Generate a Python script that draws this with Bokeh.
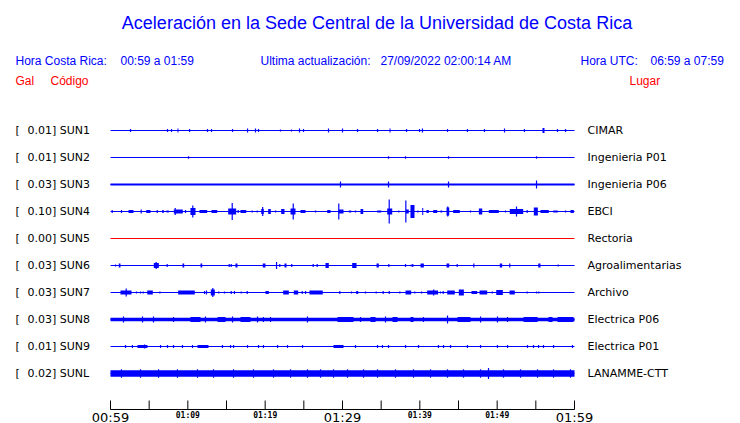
from bokeh.plotting import figure
from bokeh.models import Range1d
from bokeh.core.properties import value
from bokeh.embed import file_html
from bokeh.resources import INLINE

# ---------------- data ----------------
TITLE = "Aceleración en la Sede Central de la Universidad de Costa Rica"
HDR_TEXT = ["Hora Costa Rica:", "00:59 a 01:59", "Ultima actualización:",
            "27/09/2022 02:00:14 AM", "Hora UTC:", "06:59 a 07:59"]
COL_HEADS = ["Gal", "Código", "Lugar"]

CODES = ["SUN1", "SUN2", "SUN3", "SUN4", "SUN5", "SUN6", "SUN7", "SUN8", "SUN9", "SUNL"]
PEAK_GAL = [0.01, 0.01, 0.03, 0.10, 0.00, 0.03, 0.03, 0.03, 0.01, 0.02]
PLACES = ["CIMAR", "Ingenieria P01", "Ingenieria P06", "EBCI", "Rectoria",
          "Agroalimentarias", "Archivo", "Electrica P06", "Electrica P01", "LANAMME-CTT"]
ONLINE = [True, True, True, True, False, True, True, True, True, True]
# background noise half-width of each trace (display amplitude units)
NOISE = [0, 0, 1.1, 0, 0, 0, 0, 1.7, 0, 3.3]

DURATION = 60  # minutes shown
TICK_MIN = [0, 5, 10, 15, 20, 25, 30, 35, 40, 45, 50, 55, 60]
TICK_LABELS = ["00:59", "", "01:09", "", "01:19", "", "01:29", "", "01:39", "", "01:49", "", "01:59"]
TICK_MAJOR = [True, False, False, False, False, False, True, False, False, False, False, False, True]

# events: (start minute, end minute, amplitude)
SUN1_EV = [(2.59, 2.59, 1.5), (7.37, 7.37, 1.5), (7.89, 7.89, 1.5), (8.66, 8.79, 2), (10.22, 10.22, 1.5),
           (12.54, 12.54, 1.5), (13.06, 13.06, 1.5), (15.78, 15.78, 1.5), (17.72, 17.72, 2), (18.75, 18.75, 2),
           (19.14, 19.14, 1.5), (21.98, 21.98, 1), (23.41, 23.41, 1), (24.44, 24.44, 2), (24.96, 24.96, 1.5),
           (28.19, 28.19, 2), (30.00, 30.00, 2), (31.94, 31.94, 1.5), (34.53, 34.53, 1.5), (36.08, 36.21, 2),
           (38.28, 38.28, 1.5), (39.96, 39.96, 1.5), (40.34, 40.34, 2), (43.58, 43.58, 1.5), (46.16, 46.16, 1.5),
           (48.36, 48.36, 1.5), (50.95, 50.95, 2), (53.53, 53.53, 1.5), (55.86, 56.12, 2.5), (57.80, 57.80, 1.5),
           (58.84, 58.84, 1.5)]
SUN2_EV = [(10.09, 10.09, 1.2), (35.95, 35.95, 1.2), (38.15, 38.15, 1.2), (43.71, 43.71, 1.2), (55.09, 55.09, 1.2)]
SUN3_EV = [(29.74, 29.74, 3), (35.95, 35.95, 3), (43.71, 43.71, 3), (55.09, 55.09, 4)]
SUN4_EV = [(0.22, 0.22, 1.5), (1.42, 1.42, 1.5), (2.33, 2.97, 1.5), (3.97, 3.97, 2), (4.62, 5.17, 1.5),
           (6.04, 6.04, 1.5), (6.69, 6.89, 1.5), (7.24, 7.54, 1), (8.19, 9.35, 2), (8.37, 8.37, 3.5),
           (9.70, 9.70, 1.5), (10.34, 10.99, 3.5), (10.64, 10.64, 6), (11.51, 12.50, 1.5), (13.06, 13.80, 1.5),
           (15.22, 16.25, 3), (15.74, 15.74, 8.5), (16.51, 16.51, 1.5), (16.81, 17.55, 1.5), (18.32, 18.32, 1),
           (18.97, 18.97, 1), (19.49, 19.82, 2.5), (19.68, 19.68, 4.5), (20.39, 20.73, 2.5), (21.34, 21.34, 1),
           (22.07, 22.50, 2.5), (23.28, 23.92, 3), (23.63, 23.63, 8), (24.57, 25.22, 1.5), (26.51, 26.51, 1),
           (28.02, 28.45, 1.5), (29.48, 30.13, 2), (29.52, 29.52, 8), (30.82, 31.13, 1), (31.68, 31.68, 1),
           (32.33, 32.68, 2.5), (34.49, 35.01, 1), (35.78, 36.43, 3), (36.04, 36.04, 12), (37.28, 37.28, 1),
           (38.19, 38.19, 11), (38.19, 38.57, 2), (38.79, 39.31, 6.5), (39.74, 39.74, 1), (40.31, 40.44, 3.5),
           (40.86, 41.16, 1.5), (41.73, 42.25, 1.5), (42.67, 42.89, 1), (43.45, 43.80, 4), (43.61, 43.61, 5),
           (44.31, 45.17, 1.5), (46.55, 46.55, 1), (47.63, 48.07, 3), (48.92, 50.21, 1.5), (51.08, 51.08, 1),
           (51.63, 53.37, 2.5), (52.50, 52.50, 5), (53.88, 53.88, 1.5), (54.74, 55.26, 4), (55.60, 56.68, 1.5),
           (57.25, 57.84, 1), (58.84, 58.84, 1), (59.48, 59.91, 1.5)]
SUN5_EV = []
SUN6_EV = [(0.65, 0.65, 1), (1.07, 1.29, 2), (5.60, 6.25, 2.5), (5.91, 5.91, 3.5), (7.33, 7.33, 1.5),
           (9.31, 9.53, 2), (11.64, 11.86, 2), (15.35, 15.35, 1.5), (15.61, 15.61, 1.5), (16.16, 16.42, 2),
           (19.69, 20.04, 2), (21.47, 21.47, 3.5), (21.89, 21.89, 1.5), (22.50, 22.76, 2), (23.44, 23.44, 1.5),
           (26.21, 26.21, 1.5), (26.73, 26.73, 1.5), (27.80, 28.23, 2.5), (31.25, 31.81, 2.5), (34.40, 34.70, 2),
           (35.99, 35.99, 1.5), (38.15, 38.15, 1.5), (38.88, 38.88, 1), (39.09, 39.09, 1.5), (40.09, 40.52, 2),
           (43.45, 43.80, 2), (44.83, 44.83, 1.5), (46.98, 46.98, 2), (50.34, 50.65, 2), (51.63, 51.63, 2),
           (55.31, 55.60, 2), (57.89, 57.89, 1)]
SUN7_EV = [(1.29, 2.72, 2), (2.03, 2.03, 4), (3.36, 3.36, 1), (3.88, 3.88, 1), (4.23, 4.23, 1),
           (4.75, 5.47, 2), (6.38, 6.38, 1), (8.75, 10.90, 2), (12.16, 12.16, 1.5), (12.41, 12.41, 2),
           (12.97, 13.49, 3), (13.23, 13.23, 4.5), (14.00, 14.00, 1), (14.74, 14.74, 1), (15.61, 15.61, 1.5),
           (16.03, 16.03, 1.5), (16.90, 16.90, 1), (17.68, 17.68, 1.5), (20.04, 20.47, 1.5), (22.33, 23.06, 2),
           (23.70, 24.27, 2), (24.79, 24.79, 1.5), (25.22, 25.22, 1.5), (25.73, 27.45, 2), (29.65, 29.65, 1.5),
           (31.16, 31.16, 1), (31.77, 32.03, 1.5), (32.97, 32.97, 1), (34.36, 34.36, 1), (35.26, 35.26, 1.5),
           (36.04, 36.04, 1.5), (37.41, 37.41, 1), (38.15, 38.88, 2), (39.35, 39.35, 1), (40.22, 40.22, 1),
           (40.95, 42.36, 2), (41.79, 41.79, 3), (42.67, 42.67, 1), (43.02, 43.02, 1.5), (43.54, 44.52, 2),
           (45.04, 45.69, 3), (46.68, 47.42, 1.5), (47.72, 48.71, 2), (49.36, 49.36, 1), (49.88, 50.73, 2.5),
           (51.60, 52.28, 2), (53.88, 53.88, 1), (55.09, 55.09, 1), (55.38, 55.38, 1)]
SUN8_EV = [(1.68, 1.68, 3), (4.14, 4.14, 3), (5.56, 5.56, 3), (8.15, 8.15, 2.5), (10.34, 11.64, 2.5),
           (12.28, 12.28, 3), (13.84, 14.87, 2.5), (15.78, 15.78, 3), (16.81, 18.10, 2.5), (19.01, 19.01, 3),
           (19.78, 19.78, 2.5), (20.69, 20.69, 2.5), (25.47, 25.47, 3), (29.35, 31.42, 2.5), (32.33, 32.33, 2.5),
           (33.62, 34.27, 2.5), (35.56, 35.56, 3), (36.47, 37.11, 2.5), (38.79, 39.18, 2.5), (40.47, 40.47, 2.5),
           (43.58, 43.58, 4), (44.87, 46.55, 2.5), (47.85, 47.85, 3), (50.04, 50.04, 3), (51.34, 51.34, 2.5),
           (53.41, 55.22, 2.5), (56.64, 57.16, 2.5), (57.80, 59.87, 2.5)]
SUN9_EV = [(1.94, 1.94, 1.5), (2.84, 2.84, 1.5), (3.49, 4.78, 1.5), (4.40, 4.40, 2), (6.47, 6.47, 1.5),
           (7.37, 7.37, 1.5), (8.15, 8.15, 1.5), (9.31, 9.31, 1.5), (10.60, 10.60, 1.5), (11.25, 12.67, 1.5),
           (14.48, 14.48, 1.5), (15.52, 15.52, 1.5), (15.91, 15.91, 1.5), (17.72, 17.72, 1.5), (19.14, 19.14, 1.5),
           (19.78, 19.78, 1.5), (21.60, 21.60, 1.5), (22.89, 22.89, 1.5), (24.83, 24.83, 1.5), (28.84, 30.13, 1.5),
           (31.68, 31.68, 1.5), (34.53, 34.53, 1.5), (35.17, 35.17, 1.5), (35.95, 35.95, 1.5), (38.15, 38.15, 1.5),
           (39.83, 39.83, 1.5), (42.41, 42.41, 1.5), (43.06, 43.06, 1.5), (43.97, 43.97, 1.5), (46.16, 46.16, 1.5),
           (47.85, 47.85, 1.5), (50.04, 50.04, 1.5), (51.34, 51.34, 1.5), (53.92, 53.92, 1.5), (54.70, 54.70, 1.5),
           (55.35, 55.35, 1.5), (55.99, 55.99, 1.5), (57.29, 57.29, 1.5), (59.74, 59.74, 1.5)]
SUNL_EV = [(1.42, 1.42, 4.2), (3.88, 3.88, 4.2), (6.21, 6.21, 4.2), (8.66, 8.66, 4.2), (11.25, 11.25, 4.2),
           (13.32, 13.32, 4.2), (15.91, 15.91, 4.2), (18.49, 18.49, 4.2), (21.08, 21.08, 4.2), (23.28, 23.28, 4.2),
           (25.47, 25.47, 4.2), (27.16, 27.16, 4.2), (28.84, 28.84, 4.2), (30.65, 30.65, 4.2), (32.72, 32.72, 4.2),
           (34.53, 34.53, 4.2), (36.85, 36.85, 4.2), (39.18, 39.18, 4.2), (41.38, 41.38, 4.2), (43.58, 43.58, 4.2),
           (45.65, 45.65, 4.2), (47.85, 47.85, 4.2), (48.88, 48.88, 5.5), (50.82, 50.82, 4.2), (53.02, 53.02, 4.2),
           (55.22, 55.22, 4.2), (57.29, 57.29, 4.2), (59.48, 59.48, 4.2)]
EVENTS = [SUN1_EV, SUN2_EV, SUN3_EV, SUN4_EV, SUN5_EV, SUN6_EV, SUN7_EV, SUN8_EV, SUN9_EV, SUNL_EV]

# ---------------- layout / style ----------------
W, H = 740, 423
T0_PX, T1_PX = 110, 574          # x of first / last minute
ROW0, ROW_STEP = 130, 27          # y of first trace, spacing
AXIS_Y = 409
BLUE, RED, BLACK = "#0000ff", "#ff0000", "#000000"
SANS = value("Liberation Sans")
DJV = value("DejaVu Sans")

ppm = (T1_PX - T0_PX) / DURATION
p = figure(width=W, height=H, x_range=Range1d(0, W), y_range=Range1d(H, 0),
           x_axis_location=None, y_axis_location=None, min_border=0,
           output_backend="svg", toolbar_location=None)
p.grid.visible = False
p.outline_line_color = None
p.background_fill_color = "white"
p.border_fill_color = "white"
p.extra_x_ranges = {"t": Range1d(-T0_PX / ppm, (W - T0_PX) / ppm)}

# headers (y = vertical centre of the text)
p.text(x=[376.5], y=[22], text=[TITLE], text_font=SANS, text_font_size="18px",
       text_color=BLUE, text_align="center", text_baseline="middle")
p.text(x=[15, 120, 260, 380, 580, 650], y=[60] * 6, text=HDR_TEXT, text_font=SANS,
       text_font_size="12px", text_color=BLUE, text_baseline="middle")
p.text(x=[15, 50, 629], y=[80] * 3, text=COL_HEADS, text_font=SANS,
       text_font_size="12px", text_color=RED, text_baseline="middle")

# traces
for i, code in enumerate(CODES):
    y0 = ROW0 + i * ROW_STEP
    col = BLUE if ONLINE[i] else RED
    p.text(x=[15, 27], y=[y0] * 2, text=["[", f"{PEAK_GAL[i]:.2f}] {code}"], text_font=DJV,
           text_font_size="11px", text_color=BLACK, text_baseline="middle")
    p.text(x=[587], y=[y0], text=[PLACES[i]], text_font=DJV,
           text_font_size="11px", text_color=BLACK, text_baseline="middle")
    p.segment(x0=[0], y0=[y0], x1=[DURATION], y1=[y0], x_range_name="t",
              line_color=col, line_width=1)
    if NOISE[i] > 0:
        p.quad(left=[0], right=[DURATION], top=[y0 - NOISE[i]], bottom=[y0 + NOISE[i]],
               x_range_name="t", fill_color=col, line_color=None)
    ev = EVENTS[i]
    spikes = [e for e in ev if e[1] <= e[0]]
    blocks = [e for e in ev if e[1] > e[0]]
    if spikes:
        p.segment(x0=[e[0] for e in spikes], x1=[e[0] for e in spikes],
                  y0=[y0 - e[2] for e in spikes], y1=[y0 + e[2] for e in spikes],
                  x_range_name="t", line_color=col, line_width=1.2)
    if blocks:
        p.quad(left=[e[0] for e in blocks], right=[e[1] for e in blocks],
               top=[y0 - e[2] for e in blocks], bottom=[y0 + e[2] for e in blocks],
               x_range_name="t", fill_color=col, line_color=None)

# time axis
p.segment(x0=[0], y0=[AXIS_Y], x1=[DURATION], y1=[AXIS_Y], x_range_name="t",
          line_color=BLACK, line_width=1)
p.segment(x0=TICK_MIN, x1=TICK_MIN, y0=[AXIS_Y - 9] * len(TICK_MIN), y1=[AXIS_Y] * len(TICK_MIN),
          x_range_name="t", line_color=BLACK, line_width=1)
big = [(t, l) for t, l, m in zip(TICK_MIN, TICK_LABELS, TICK_MAJOR) if l and m]
small = [(t, l) for t, l, m in zip(TICK_MIN, TICK_LABELS, TICK_MAJOR) if l and not m]
p.text(x=[t for t, _ in big], y=[AXIS_Y + 7.5] * len(big), text=[l for _, l in big],
       x_range_name="t", text_font=DJV, text_font_size="13px", text_color=BLACK,
       text_align="center", text_baseline="middle")
p.text(x=[t for t, _ in small], y=[AXIS_Y + 6] * len(small), text=[l for _, l in small],
       x_range_name="t", text_font=value("DejaVu Sans Mono"), text_font_size="8px",
       text_font_style="bold", text_color=BLACK, text_align="center", text_baseline="middle")

open("out.html", "w").write(file_html(p, INLINE))
